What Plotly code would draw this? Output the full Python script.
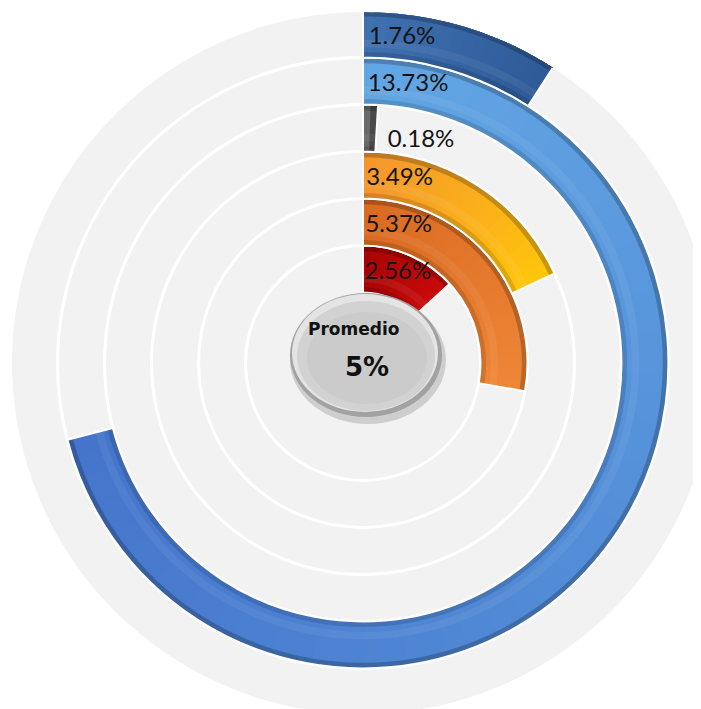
import numpy as np
import plotly.graph_objects as go

# ---------------- data ----------------
labels = ["2.56%", "5.37%", "3.49%", "0.18%", "13.73%", "1.76%"]
values = [2.56, 5.37, 3.49, 0.18, 13.73, 1.76]
start_colors = ["#a80404", "#d96a22", "#f4962e", "#6a6a6a", "#62a6e4", "#3f70b0"]
end_colors = ["#c80a0a", "#ef8636", "#ffc40c", "#4a4a4a", "#4575cb", "#2f5b98"]
average_label = "Promedio"
average_value = "5%"
scale_max = 19.35          # value that corresponds to a full turn

# ---------------- layout constants ----------------
W, H = 726, 726
OFF = 8                    # page body margin
CX, CY = 363 - OFF, 363 - OFF
R_PX = 351
R_MAX = 7.47
INNER = 1.5


def hex2rgb(h):
    h = h.lstrip("#")
    return np.array([int(h[i:i + 2], 16) for i in (0, 2, 4)], dtype=float)


def mix(c1, c2, t):
    c = hex2rgb(c1) * (1 - t) + hex2rgb(c2) * t
    return "rgb(%d,%d,%d)" % tuple(np.round(c).astype(int))


fig = go.Figure()

for i, (v, c0, c1) in enumerate(zip(values, start_colors, end_colors)):
    ang = v / scale_max * 360.0
    n = max(1, int(np.ceil(ang / 2.0)))
    edges = np.linspace(0, ang, n + 1)[:-1]
    centers = (edges + ang) / 2
    widths = ang - edges
    ts = np.linspace(0, 1, n)
    cols = [mix(c0, c1, t) for t in ts]
    fig.add_trace(go.Barpolar(
        r=[1.0] * n, base=[INNER + i] * n, theta=centers, width=widths,
        marker=dict(color=cols, line=dict(width=0)),
        hoverinfo="skip", showlegend=False,
    ))
    # bevel shading
    fig.add_trace(go.Barpolar(
        r=[0.12], base=[INNER + i], theta=[ang / 2], width=[ang],
        marker=dict(color="rgba(0,0,0,0.13)", line=dict(width=0)),
        hoverinfo="skip", showlegend=False,
    ))
    fig.add_trace(go.Barpolar(
        r=[0.12], base=[INNER + i + 0.88], theta=[ang / 2], width=[ang],
        marker=dict(color="rgba(0,0,0,0.22)", line=dict(width=0)),
        hoverinfo="skip", showlegend=False,
    ))
    fig.add_trace(go.Barpolar(
        r=[0.16], base=[INNER + i + 0.22], theta=[ang / 2], width=[ang],
        marker=dict(color="rgba(255,255,255,0.06)", line=dict(width=0)),
        hoverinfo="skip", showlegend=False,
    ))
    # white outline
    fig.add_trace(go.Barpolar(
        r=[1.0], base=[INNER + i], theta=[ang / 2], width=[ang],
        marker=dict(color="rgba(0,0,0,0)", line=dict(color="white", width=2)),
        hoverinfo="skip", showlegend=False,
    ))

lab_r, lab_t = [], []
for i, v in enumerate(values):
    ang = v / scale_max * 360.0
    if v < 1:
        lab_r.append(INNER + i + 0.25)
        lab_t.append(ang + 3.0)
    else:
        lab_r.append(INNER + i + 0.42)
        lab_t.append(1.0)
fig.add_trace(go.Scatterpolar(
    r=lab_r, theta=lab_t, text=labels, mode="text",
    textposition="middle right",
    textfont=dict(family="Lato, sans-serif", size=24, color="#141414"),
    hoverinfo="skip", showlegend=False,
))

dx0 = (CX - R_PX) / W
dx1 = (CX + R_PX) / W
dy0 = (H - CY - R_PX) / H
dy1 = (H - CY + R_PX) / H

fig.update_layout(
    width=W, height=H,
    margin=dict(l=0, r=0, t=0, b=0),
    paper_bgcolor="white",
    plot_bgcolor="white",
    polar=dict(
        domain=dict(x=[dx0, dx1], y=[dy0, dy1]),
        bgcolor="#f2f2f2",
        barmode="overlay",
        radialaxis=dict(range=[0, R_MAX], tickvals=[INNER + k for k in range(1, 6)],
                        showticklabels=False, ticks="", showline=False,
                        gridcolor="white", gridwidth=3),
        angularaxis=dict(rotation=90, direction="clockwise", showgrid=False,
                         showticklabels=False, ticks="", showline=False),
    ),
)


def px2paper_x(x):
    return (x - OFF) / W


def px2paper_y(y):
    return 1 - (y - OFF) / H


def ellipse(cx, cy, rx, ry, fill):
    fig.add_shape(type="circle", xref="paper", yref="paper",
                  x0=px2paper_x(cx - rx), x1=px2paper_x(cx + rx),
                  y0=px2paper_y(cy + ry), y1=px2paper_y(cy - ry),
                  fillcolor=fill, line=dict(width=0))


# centre "button" (page px coordinates)
ECX, ECY, ERX, ERY = 366, 355, 76, 62
ellipse(ECX + 2, ECY + 5, ERX + 2, ERY + 2, "rgba(0,0,0,0.15)")
ellipse(ECX, ECY, ERX, ERY, "#a2a2a2")
ellipse(ECX - 1, ECY - 2, ERX - 3, ERY - 3, "#e4e4e4")
ellipse(ECX, ECY + 1, ERX - 7, ERY - 7, "#d2d2d2")
ellipse(ECX + 1, ECY + 3, ERX - 16, ERY - 16, "#cbcbcb")

fig.add_annotation(x=px2paper_x(353), y=px2paper_y(329), xref="paper", yref="paper",
                   text="<b>%s</b>" % average_label, showarrow=False,
                   font=dict(family="DejaVu Sans, sans-serif", size=17, color="#111111"))
fig.add_annotation(x=px2paper_x(367), y=px2paper_y(367), xref="paper", yref="paper",
                   text="<b>%s</b>" % average_value, showarrow=False,
                   font=dict(family="DejaVu Sans, sans-serif", size=26, color="#111111"))

fig.write_html("out.html")
